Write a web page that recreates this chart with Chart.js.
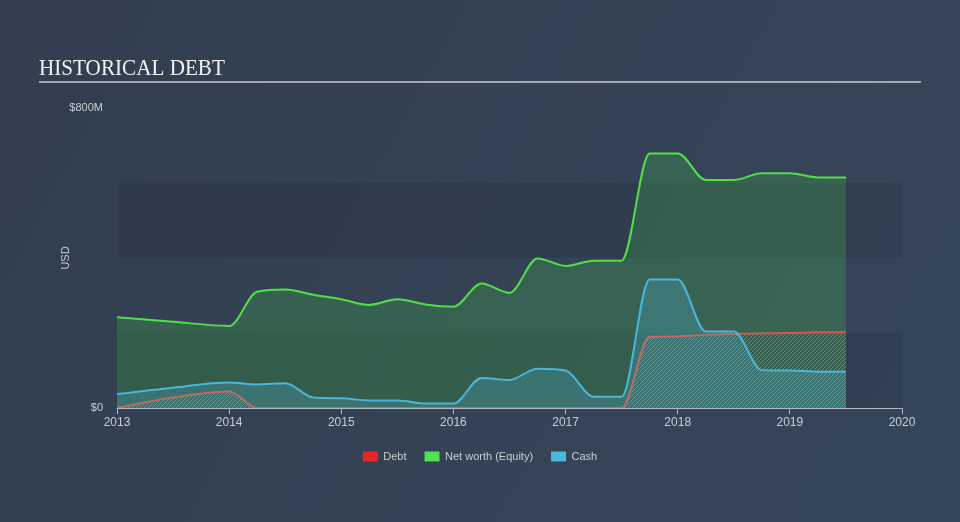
<!DOCTYPE html>
<html><head><meta charset="utf-8">
<script src="https://cdn.jsdelivr.net/npm/chart.js@4"></script>
<style>html,body{margin:0;padding:0;background:#344153;}canvas{display:block}</style>
</head><body>
<canvas id="c" width="960" height="522"></canvas>
<script>
// ---- data (values in $M, dates as decimal years) ----
const years  = [2013.0, 2013.5, 2014.0, 2014.25, 2014.5, 2014.75, 2015.0, 2015.25, 2015.5, 2015.75, 2016.0, 2016.25, 2016.5, 2016.75, 2017.0, 2017.25, 2017.5, 2017.75, 2018.0, 2018.25, 2018.5, 2018.75, 2019.0, 2019.25, 2019.5];
const debt   = [0, 28, 44, 0, 0, 0, 0, 0, 0, 0, 0, 0, 0, 0, 0, 0, 0, 190, 191, 195, 197, 199, 200, 202, 202];
const equity = [242, 230, 219, 310, 316, 302, 290, 275, 290, 276, 270, 332, 307, 399, 379, 393, 393, 679, 679, 608, 608, 626, 626, 615, 615];
const cash   = [37, 54, 68, 63, 66, 28, 26, 20, 20, 12, 12, 80, 75, 105, 100, 30, 30, 343, 343, 204, 204, 101, 100, 97, 97];
const xTicks = [2013, 2014, 2015, 2016, 2017, 2018, 2019, 2020];
const yTicks = [0, 800];
const bandRanges = [[0, 200], [400, 600]];
const seriesNames = ['Debt', 'Net worth (Equity)', 'Cash'];
const legendColors = ['#e8262a', '#4fe34f', '#4bb9dd'];
const chartTitle = 'HISTORICAL DEBT';
const yAxisTitle = 'USD';

const canvas = document.getElementById('c');
const ctx = canvas.getContext('2d');

function hatch(color) {
  const c = document.createElement('canvas');
  c.width = 4; c.height = 4;
  const g = c.getContext('2d');
  g.strokeStyle = color; g.lineWidth = 1;
  g.beginPath();
  g.moveTo(0, 4); g.lineTo(4, 0);
  g.moveTo(-1, 1); g.lineTo(1, -1);
  g.moveTo(3, 5); g.lineTo(5, 3);
  g.stroke();
  return ctx.createPattern(c, 'repeat');
}

const pts = arr => years.map((x, i) => ({x: x, y: arr[i]}));

const bgPlugin = {
  id: 'bg',
  beforeDraw(chart) {
    const c = chart.ctx;
    const gr = c.createLinearGradient(0, 0, 960, 522);
    gr.addColorStop(0, '#323e4f');
    gr.addColorStop(1, '#36465a');
    c.save(); c.fillStyle = gr; c.fillRect(0, 0, chart.width, chart.height);
    // title
    c.save();
    c.translate(39, 75);
    c.scale(0.94, 1);
    c.fillStyle = '#f2f2f2';
    c.font = '22.5px "Liberation Serif", "DejaVu Serif", serif';
    c.textBaseline = 'alphabetic';
    c.textAlign = 'left';
    c.fillText(chartTitle, 0, 0);
    c.restore();
    c.strokeStyle = '#a3a8b0'; c.lineWidth = 2;
    c.beginPath(); c.moveTo(39, 82); c.lineTo(921, 82); c.stroke();
    c.restore();
  },
  beforeDatasetsDraw(chart) {
    const c = chart.ctx, a = chart.chartArea, y = chart.scales.y;
    c.save();
    c.fillStyle = 'rgba(0,0,0,0.08)';
    bandRanges.forEach(([lo, hi]) => {
      const y1 = y.getPixelForValue(hi), y0 = y.getPixelForValue(lo);
      c.fillRect(a.left, y1, a.right - a.left, y0 - y1);
    });
    c.restore();
  }
};

const common = {pointRadius: 0, borderWidth: 2, cubicInterpolationMode: 'monotone', fill: 'origin'};

new Chart(ctx, {
  type: 'line',
  data: {
    datasets: [
      Object.assign({label: seriesNames[0], data: pts(debt), borderColor: '#e0553c', backgroundColor: hatch('rgba(232,96,62,0.95)'), order: 1}, common),
      Object.assign({label: seriesNames[1], data: pts(equity), borderColor: '#4fe04a', backgroundColor: 'rgba(75,224,75,0.2)', order: 2}, common),
      Object.assign({label: seriesNames[2], data: pts(cash), borderColor: '#4ab6d8', backgroundColor: 'rgba(74,184,220,0.25)', order: 0}, common)
    ]
  },
  plugins: [bgPlugin],
  options: {
    responsive: false,
    animation: false,
    events: [],
    layout: {padding: {top: 108, left: 0, right: 0, bottom: 50}},
    plugins: {
      tooltip: {enabled: false},
      legend: {
        position: 'bottom',
        labels: {
          boxWidth: 15, boxHeight: 10, padding: 18,
          color: '#c9cdd3',
          font: {size: 11, family: '"Liberation Sans", Arial, sans-serif'},
          sort: (a, b) => a.datasetIndex - b.datasetIndex,
          generateLabels(chart) {
            const items = Chart.defaults.plugins.legend.labels.generateLabels(chart);
            items.forEach(it => {
              it.fillStyle = legendColors[it.datasetIndex];
              it.strokeStyle = legendColors[it.datasetIndex];
              it.lineWidth = 0;
            });
            return items;
          }
        }
      }
    },
    scales: {
      x: {
        type: 'linear', min: 2013, max: 2020,
        afterBuildTicks: s => { s.ticks = xTicks.map(v => ({value: v})); },
        afterFit: s => { s.height = 25; },
        ticks: {color: '#c9cdd3', font: {size: 12, family: '"Liberation Sans", Arial, sans-serif'}, padding: 1, maxRotation: 0, callback: v => String(v)},
        grid: {display: true, drawOnChartArea: false, drawTicks: true, tickLength: 6, color: '#b5bac2'},
        border: {display: true, color: '#b5bac2', width: 1}
      },
      y: {
        type: 'linear', min: 0, max: 800, position: 'left',
        afterBuildTicks: s => { s.ticks = yTicks.map(v => ({value: v})); },
        afterFit: s => { s.width = 117; },
        ticks: {color: '#c9cdd3', font: {size: 11, family: '"Liberation Sans", Arial, sans-serif'}, padding: 14, callback: v => v === 0 ? '$0' : '$' + v + 'M'},
        grid: {display: false, drawTicks: false},
        border: {display: false},
        title: {display: true, text: yAxisTitle, color: '#c9cdd3', font: {size: 11, family: '"Liberation Sans", Arial, sans-serif'}, padding: {top: 59, bottom: 0}}
      },
      yRight: {
        type: 'linear', axis: 'y', position: 'right', display: true,
        afterFit: s => { s.width = 58; },
        ticks: {display: false},
        grid: {display: false, drawTicks: false},
        border: {display: false}
      }
    }
  }
});
</script>
</body></html>
